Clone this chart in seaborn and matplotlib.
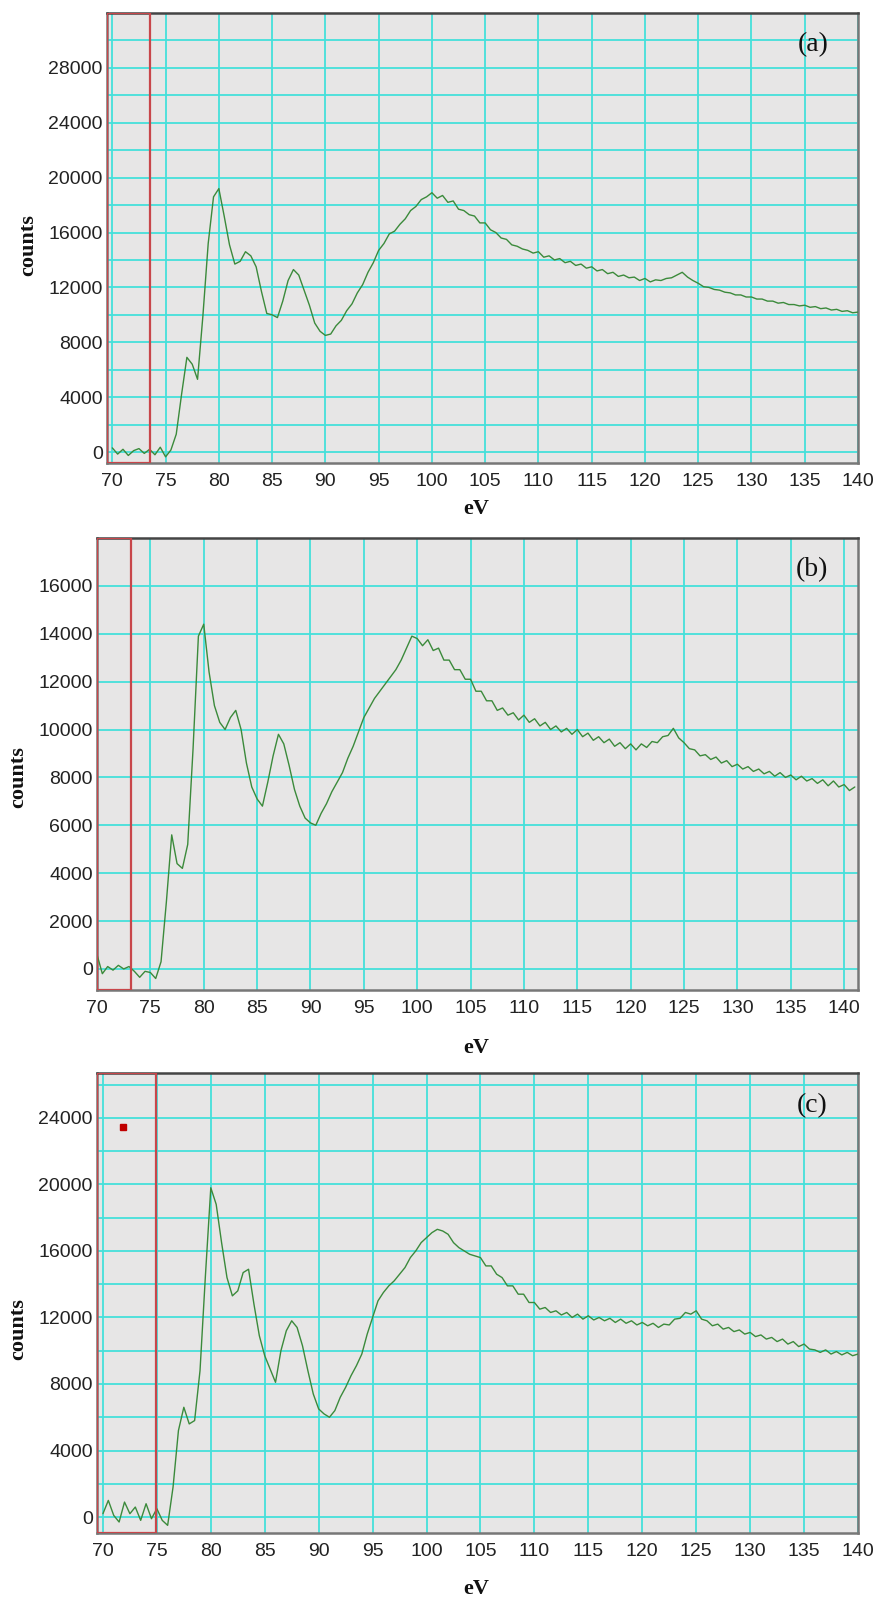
import numpy as np
import pandas as pd
import matplotlib
matplotlib.use("Agg")
import matplotlib.pyplot as plt
import seaborn as sns

# ---------------- data ----------------
energy_a = np.arange(70, 140.01, 0.5)
counts_a = [
    300, -150, 200, -250, 100, 250, -100, 200, -200, 350, -350, 150,
    1300, 4200, 6900, 6400, 5300, 9900, 15200, 18600,
    19200, 17200, 15100, 13700, 13900, 14600, 14300, 13500, 11700, 10100,
    10000, 9800, 11000, 12500, 13300, 12900, 11800, 10700, 9400, 8800,
    8500, 8600, 9200, 9600, 10300, 10800, 11600, 12200, 13100, 13800,
    14700, 15200, 15900, 16100, 16600, 17000, 17600, 17900, 18400, 18600,
    18900, 18500, 18700, 18200, 18300, 17700, 17600, 17300, 17200, 16700,
    16700, 16200, 16000, 15600, 15500, 15100, 15000, 14800, 14700, 14500,
    14600, 14200, 14300, 14000, 14100, 13800, 13900, 13600, 13700, 13400,
    13500, 13200, 13300, 13000, 13100, 12800, 12900, 12700, 12750, 12500,
    12650, 12400, 12550, 12500, 12650, 12700, 12900, 13100, 12750, 12500,
    12300, 12050, 12000, 11850, 11800, 11650, 11600, 11450, 11450, 11300,
    11300, 11150, 11150, 11000, 11000, 10850, 10900, 10750, 10750, 10650,
    10700, 10550, 10600, 10450, 10500, 10350, 10400, 10250, 10300, 10150,
    10200,
]

energy_b = np.arange(70, 141.01, 0.5)
counts_b = [
    600, -200, 100, -50, 150, 0, 100, -100, -350, -100, -150, -400,
    300, 2800, 5600, 4400, 4200, 5200, 9200, 13900,
    14400, 12400, 11000, 10300, 10000, 10500, 10800, 10000, 8600, 7600,
    7100, 6800, 7800, 8900, 9800, 9400, 8500, 7500, 6800, 6300,
    6100, 6000, 6500, 6900, 7400, 7800, 8200, 8800, 9300, 9900,
    10500, 10900, 11300, 11600, 11900, 12200, 12500, 12900, 13400, 13900,
    13800, 13500, 13750, 13300, 13400, 12900, 12900, 12500, 12500, 12100,
    12100, 11600, 11600, 11200, 11200, 10800, 10900, 10600, 10700, 10400,
    10600, 10300, 10450, 10150, 10300, 10000, 10150, 9900, 10050, 9800,
    10000, 9700, 9850, 9550, 9700, 9450, 9600, 9300, 9450, 9200,
    9400, 9150, 9400, 9250, 9500, 9450, 9700, 9750, 10050, 9650,
    9450, 9200, 9150, 8900, 8950, 8750, 8850, 8600, 8700, 8450,
    8550, 8350, 8450, 8250, 8350, 8150, 8250, 8050, 8200, 8000,
    8100, 7900, 8050, 7850, 7950, 7750, 7900, 7650, 7850, 7600,
    7700, 7450, 7600,
]

energy_c = np.arange(70, 140.01, 0.5)
counts_c = [
    200, 1000, 100, -300, 900, 200, 600, -200, 800, -100, 500, -200,
    -500, 1800, 5200, 6600, 5600, 5800, 8800, 14500,
    19800, 18800, 16500, 14400, 13300, 13600, 14700, 14900, 12800, 10900,
    9700, 8900, 8100, 10000, 11200, 11800, 11400, 10300, 8800, 7400,
    6500, 6200, 6000, 6400, 7200, 7800, 8500, 9100, 9800, 11000,
    12000, 13000, 13500, 13900, 14200, 14600, 15000, 15600, 16000, 16500,
    16800, 17100, 17300, 17200, 17000, 16500, 16200, 16000, 15800, 15700,
    15600, 15100, 15100, 14600, 14400, 13900, 13900, 13400, 13400, 12900,
    12900, 12500, 12600, 12300, 12400, 12150, 12300, 12000, 12200, 11900,
    12100, 11850, 12000, 11800, 11950, 11700, 11900, 11650, 11800, 11550,
    11700, 11500, 11650, 11400, 11600, 11550, 11900, 11950, 12300, 12200,
    12400, 11900, 11800, 11500, 11600, 11300, 11400, 11150, 11250, 11000,
    11100, 10850, 10950, 10700, 10800, 10550, 10700, 10400, 10550, 10250,
    10400, 10100, 10050, 9900, 10050, 9800, 9950, 9750, 9900, 9700,
    9800,
]

panel_labels = ["(a)", "(b)", "(c)"]
x_ticks = list(range(70, 141, 5))
window_a = (69.5, 73.5)
window_b = (70.0, 73.2)
window_c = (69.45, 74.9)
marker_c = (71.9, 23450)

# ---------------- style ----------------
sns.set_theme(style="white")
plt.rcParams["font.family"] = ["Liberation Sans", "DejaVu Sans"]

BG = "#e7e6e6"
GRID = "#45e0da"
LINE = "#3b8a3b"
RED = "#c8464a"
SPINE = "#777777"

W, H = 877, 1602
fig = plt.figure(figsize=(W / 100, H / 100), dpi=100)

def box(l, t, r, b):
    return [l / W, 1 - b / H, (r - l) / W, (b - t) / H]

specs = [
    dict(pos=box(107, 13, 858, 463), e=energy_a, c=counts_a, xlim=(69.5, 140.0),
         ylim=(-800, 32000), grid_y=np.arange(0, 30001, 2000), lab_y=np.arange(0, 28001, 4000),
         win=window_a, lab=panel_labels[0], ylab=(28, 245), xlab=(476, 509)),
    dict(pos=box(97, 538, 858, 990), e=energy_b, c=counts_b, xlim=(70.0, 141.3),
         ylim=(-880, 18000), grid_y=np.arange(0, 16001, 2000), lab_y=np.arange(0, 16001, 2000),
         win=window_b, lab=panel_labels[1], ylab=(18, 777), xlab=(476, 1048)),
    dict(pos=box(97, 1073, 858, 1533), e=energy_c, c=counts_c, xlim=(69.45, 140.0),
         ylim=(-960, 26700), grid_y=np.arange(0, 26001, 2000), lab_y=np.arange(0, 24001, 4000),
         win=window_c, lab=panel_labels[2], ylab=(18, 1329), xlab=(476, 1589)),
]

for i, s in enumerate(specs):
    ax = fig.add_axes(s["pos"])
    ax.set_facecolor(BG)
    df = pd.DataFrame({"eV": s["e"], "counts": s["c"]})
    for gx in x_ticks:
        ax.axvline(gx, color=GRID, lw=1.3, zorder=1)
    for gy in s["grid_y"]:
        ax.axhline(gy, color=GRID, lw=1.3, zorder=1)
    sns.lineplot(data=df, x="eV", y="counts", ax=ax, color=LINE, lw=1.0, zorder=3)
    ax.axvspan(s["win"][0], s["win"][1], fill=False, edgecolor=RED, lw=1.6, zorder=4)
    ax.set_xlim(*s["xlim"])
    ax.set_ylim(*s["ylim"])
    ax.set_xticks(x_ticks)
    ax.set_xticklabels([str(t) for t in x_ticks])
    ax.set_yticks(s["lab_y"])
    ax.set_yticklabels([str(int(t)) for t in s["lab_y"]])
    ax.tick_params(axis="both", length=0, labelsize=14, colors="#222222")
    ax.tick_params(axis="x", pad=7)
    ax.tick_params(axis="y", pad=3)
    ax.set_xlabel("")
    ax.set_ylabel("")
    for sp in ax.spines.values():
        sp.set_color(SPINE)
        sp.set_linewidth(1.8)
        sp.set_visible(True)
    ax.spines["top"].set_color("#444444")
    ax.text(0.94, 0.93, s["lab"], transform=ax.transAxes, ha="center", va="center",
            fontsize=20, family="Liberation Serif", color="#111111")
    if i == 2:
        ax.plot([marker_c[0]], [marker_c[1]], marker="s", ms=5, color="#c00000", zorder=5)
    fig.text(s["ylab"][0] / W, 1 - s["ylab"][1] / H, "counts", rotation=90,
             ha="center", va="center", fontsize=16, fontweight="bold",
             family="Liberation Serif", color="#111111")
    fig.text(s["xlab"][0] / W, 1 - s["xlab"][1] / H, "eV",
             ha="center", va="center", fontsize=16, fontweight="bold",
             family="Liberation Serif", color="#111111")

fig.savefig("out.png", dpi=100, facecolor="white")
